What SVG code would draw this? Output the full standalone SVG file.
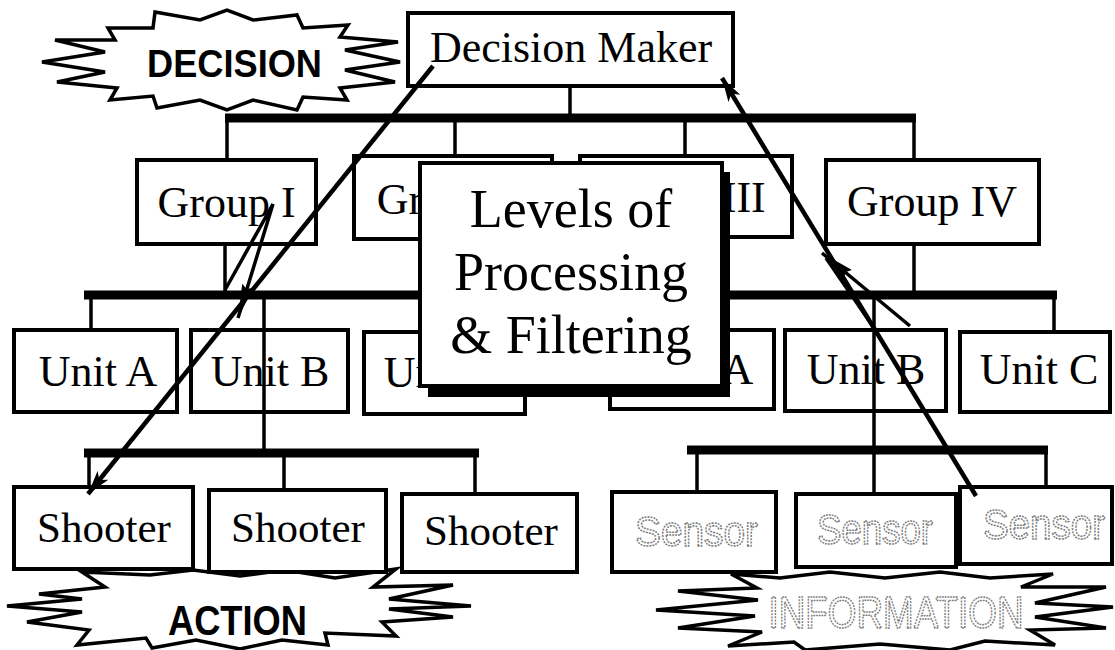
<svg xmlns="http://www.w3.org/2000/svg" width="1115" height="650" viewBox="0 0 1115 650">
<defs>
<style>
.box{fill:#fff;stroke:#000;stroke-width:4}
.t{font-family:"Liberation Serif","Times New Roman",serif;text-anchor:middle;fill:#000}
.t44{font-size:44px}
.t43{font-size:43px}
.t54{font-size:54px}
.bus{stroke:#000;stroke-width:9;fill:none}
.v{stroke:#000;stroke-width:3.5;fill:none}
.arr{stroke:#000;stroke-width:4.5;fill:none}
.zz{stroke:#000;stroke-width:3.5;fill:none}
.star{fill:#fff;stroke:#000;stroke-width:3.5;stroke-linejoin:miter}
.bold{font-family:"Liberation Sans",Arial,sans-serif;font-weight:bold;text-anchor:middle;fill:#000}
.gray{font-family:"Liberation Sans",Arial,sans-serif;text-anchor:middle;fill:#fff;stroke:#777;stroke-width:1.5;stroke-dasharray:2 1.2}
</style>
<marker id="ah" markerUnits="userSpaceOnUse" markerWidth="26" markerHeight="14" refX="24" refY="7" orient="auto">
<path d="M0,0 L24,7 L0,14 L6,7 Z" fill="#000"/>
</marker>
<marker id="thin" markerUnits="userSpaceOnUse" markerWidth="36" markerHeight="12" refX="34" refY="6" orient="auto">
<path d="M0,0 L34,6 L0,12 L4,6 Z" fill="#000"/>
</marker>
</defs>
<rect width="1115" height="650" fill="#fff"/>

<g id="decision-burst">
<polygon class="star" points="155,12 200,20 227,10 253,20 297,15 303,28 348,25 340,37 398,42 345,50 400,62 345,70 395,82 340,88 347,100 303,97 297,110 253,100 227,110 200,100 157,108 153,96 110,100 117,88 57,82 105,72 42,62 105,52 55,40 115,40 108,28 153,28"/>
<text class="bold" x="234.5" y="77" font-size="38" textLength="175" lengthAdjust="spacingAndGlyphs">DECISION</text>
</g>

<g id="action-burst">
<polygon class="star" points="82,572 105,587 39,594 82,599 7,606 82,612 27,622 89,630 77,645 146,638 152,648 196,640 240,649 282,640 328,645 325,633 396,636 382,622 453,617 389,609 471,606 389,599 453,585 373,587 396,569 335,578 285,570 240,576 193,570 150,575"/>
<text class="bold" x="237.5" y="635" font-size="42" textLength="139" lengthAdjust="spacingAndGlyphs">ACTION</text>
</g>

<g id="information-burst">
<polygon class="star" points="731,574 757,588 678,591 758,600 656,610 755,616 678,628 762,632 728,646 794,642 805,650 880,644 950,650 985,641 1055,645 1030,630 1106,628 1035,617 1113,607 1035,603 1106,587 1021,587 1053,574 990,578 940,572 885,578 830,572 780,578"/>
<text class="gray" x="896" y="628" font-size="44" textLength="255" lengthAdjust="spacingAndGlyphs">INFORMATION</text>
</g>

<g id="decision-maker"><rect class="box" x="408" y="13" width="325" height="73"/><text class="t t44" x="571" y="62">Decision Maker</text></g>

<g id="group-1"><rect class="box" x="137" y="160" width="179" height="84"/><text class="t t44" x="226.5" y="217">Group I</text></g>
<g id="group-2"><rect class="box" x="354" y="156" width="198" height="83"/><text class="t t44" x="453" y="214">Group II</text></g>
<g id="group-3"><rect class="box" x="580" y="156" width="212" height="81"/><text class="t t44" x="682" y="212">Group III</text></g>
<g id="group-4"><rect class="box" x="826" y="160" width="213" height="84"/><text class="t t44" x="932" y="216">Group IV</text></g>

<g id="unit-1a"><rect class="box" x="14" y="330" width="163" height="82"/><text class="t t44" x="98" y="386">Unit A</text></g>
<g id="unit-1b"><rect class="box" x="191" y="330" width="157" height="82"/><text class="t t44" x="270" y="386">Unit B</text></g>
<g id="unit-1c"><rect class="box" x="364" y="332" width="161" height="82"/><text class="t t44" x="443" y="387">Unit C</text></g>
<g id="unit-2a"><rect class="box" x="610" y="330" width="164" height="79"/><text class="t t44" x="694" y="384">Unit A</text></g>
<g id="unit-2b"><rect class="box" x="785" y="330" width="161" height="81"/><text class="t t44" x="866" y="384">Unit B</text></g>
<g id="unit-2c"><rect class="box" x="960" y="332" width="150" height="80"/><text class="t t44" x="1039" y="384">Unit C</text></g>

<g id="shooter-1"><rect class="box" x="14" y="487" width="179" height="82"/><text class="t t43" x="104" y="542">Shooter</text></g>
<g id="shooter-2"><rect class="box" x="209" y="490" width="177" height="82"/><text class="t t43" x="298" y="542">Shooter</text></g>
<g id="shooter-3"><rect class="box" x="402" y="494" width="175" height="78"/><text class="t t43" x="491" y="545">Shooter</text></g>

<g id="sensor-1"><rect class="box" x="612" y="492" width="164" height="80"/><text class="gray" x="696.5" y="546" font-size="42" textLength="123" lengthAdjust="spacingAndGlyphs">Sensor</text></g>
<g id="sensor-2"><rect class="box" x="796" y="494" width="160" height="73"/><text class="gray" x="875" y="544" font-size="42" textLength="116" lengthAdjust="spacingAndGlyphs">Sensor</text></g>
<g id="sensor-3"><rect class="box" x="960" y="487" width="152" height="77"/><text class="gray" x="1044" y="539" font-size="42" textLength="122" lengthAdjust="spacingAndGlyphs">Sensor</text></g>

<g id="connectors">
<line class="v" x1="570" y1="86" x2="570" y2="118"/>
<line class="bus" x1="225" y1="118" x2="916" y2="118"/>
<line class="v" x1="227" y1="118" x2="227" y2="160"/>
<line class="v" x1="455" y1="118" x2="455" y2="156"/>
<line class="v" x1="685" y1="118" x2="685" y2="156"/>
<line class="v" x1="914" y1="118" x2="914" y2="160"/>
<line class="v" x1="225" y1="244" x2="225" y2="295"/>
<line class="v" x1="455" y1="239" x2="455" y2="295"/>
<line class="v" x1="685" y1="237" x2="685" y2="295"/>
<line class="v" x1="914" y1="244" x2="914" y2="295"/>
<line class="bus" x1="84" y1="295" x2="1057" y2="295"/>
<line class="v" x1="91" y1="295" x2="91" y2="330"/>
<line class="v" x1="264" y1="295" x2="264" y2="453"/>
<line class="v" x1="444" y1="295" x2="444" y2="332"/>
<line class="v" x1="692" y1="295" x2="692" y2="330"/>
<line class="v" x1="874" y1="295" x2="874" y2="450"/>
<line class="v" x1="1054" y1="295" x2="1054" y2="332"/>
<line class="bus" x1="84" y1="453" x2="479" y2="453"/>
<line class="v" x1="89" y1="453" x2="89" y2="487"/>
<line class="v" x1="284" y1="453" x2="284" y2="490"/>
<line class="v" x1="475" y1="453" x2="475" y2="494"/>
<line class="bus" x1="687" y1="450" x2="1048" y2="450"/>
<line class="v" x1="697" y1="450" x2="697" y2="492"/>
<line class="v" x1="874" y1="450" x2="874" y2="494"/>
<line class="v" x1="1046" y1="450" x2="1046" y2="487"/>
</g>

<g id="levels-box">
<rect x="428" y="172" width="302" height="225" fill="#000"/>
<rect class="box" x="420" y="163" width="302" height="223"/>
<text class="t t54" x="571" y="227">Levels of</text>
<text class="t t54" x="571" y="290">Processing</text>
<text class="t t54" x="571" y="353">&amp; Filtering</text>
</g>

<g id="flow-arrows">
<line class="arr" x1="433" y1="66" x2="88" y2="494" marker-end="url(#ah)"/>
<polyline class="zz" points="225,290 273,204 238,318" marker-end="url(#thin)"/>
<line class="arr" x1="976" y1="496" x2="722" y2="78" marker-end="url(#ah)"/>
<polyline class="zz" points="874,328 826,258"/>
<line class="zz" x1="910" y1="326" x2="822" y2="253" marker-end="url(#thin)"/>
</g>
</svg>
